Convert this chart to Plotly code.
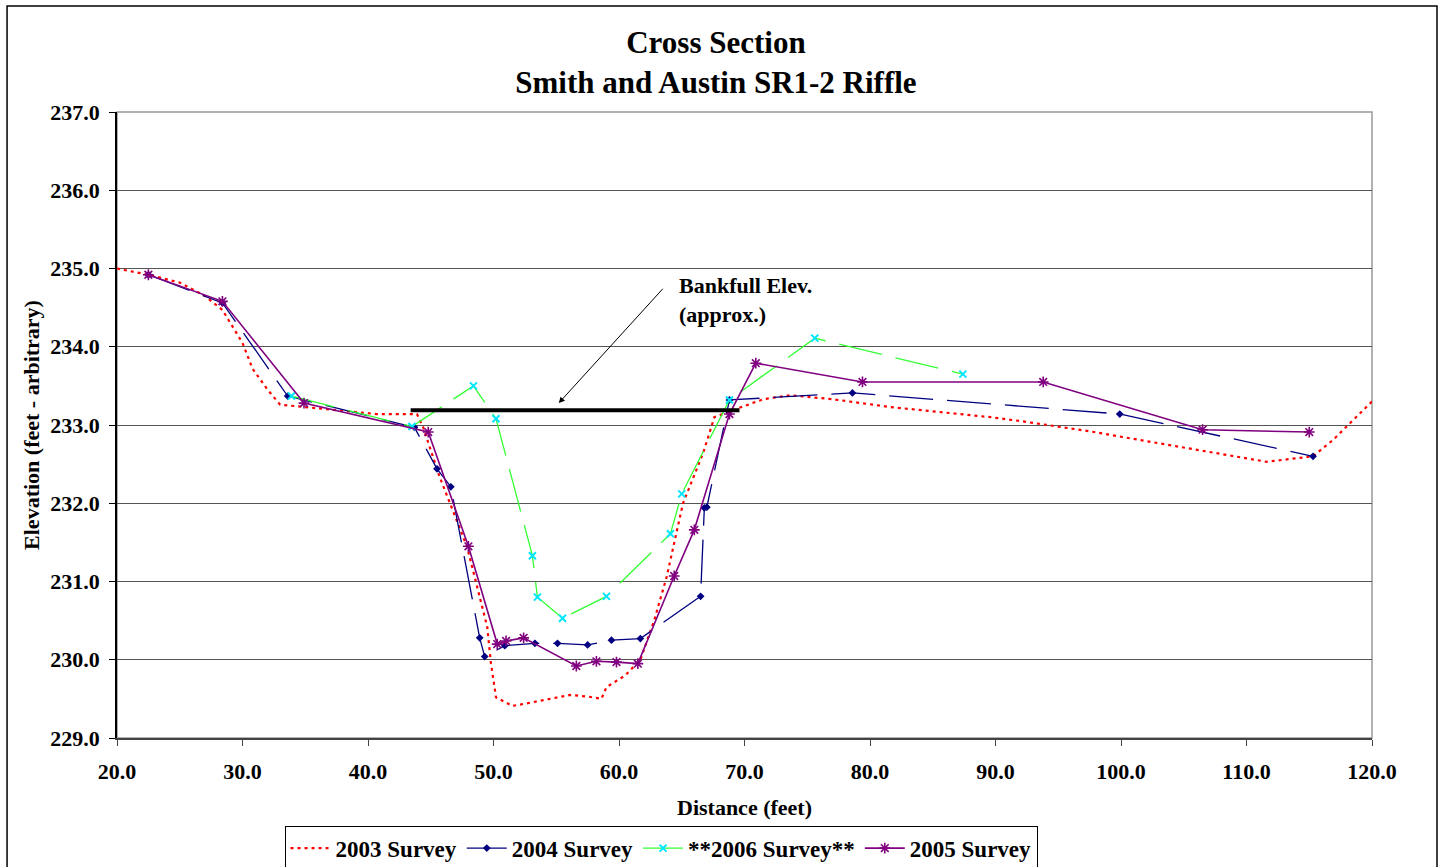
import plotly.graph_objects as go

# ---- survey data: distance (ft) and elevation (ft, arbitrary datum) ----
dist_2003 = [20.0, 22.5, 25.0, 27.0, 28.4, 30.0, 30.8, 32.0, 33.0, 35.4, 38.0, 40.7,
             43.9, 44.4, 45.7, 47.9, 49.5, 49.8, 50.2, 51.5, 52.9, 54.5, 56.1, 57.5,
             58.6, 59.0, 60.5, 61.7, 62.8, 63.8, 65.1, 66.7, 67.6, 69.6, 71.5, 73.6,
             77.0, 81.6, 89.6, 92.0, 97.5, 100.0, 106.3, 111.6, 115.3, 116.9, 120.0]
elev_2003 = [235.00, 234.92, 234.82, 234.65, 234.47, 234.05, 233.72, 233.45, 233.26,
             233.22, 233.18, 233.14, 233.14, 232.97, 232.34, 231.44, 230.42, 229.95,
             229.52, 229.41, 229.45, 229.50, 229.55, 229.53, 229.50, 229.65, 229.80,
             230.00, 230.50, 231.06, 232.00, 232.64, 233.10, 233.22, 233.33, 233.38,
             233.33, 233.23, 233.10, 233.05, 232.92, 232.85, 232.68, 232.53, 232.60,
             232.81, 233.30]

dist_2004 = [22.5, 28.4, 33.6, 43.7, 45.5, 46.6, 48.9, 49.3, 50.9, 53.3, 55.1, 57.5,
             59.4, 61.7, 66.5, 66.8, 67.0, 68.8, 78.6, 99.9, 115.3]
elev_2004 = [234.92, 234.56, 233.37, 232.97, 232.44, 232.21, 230.28, 230.04, 230.18,
             230.21, 230.21, 230.19, 230.25, 230.27, 230.81, 231.94, 231.95, 233.32,
             233.41, 233.14, 232.60]

dist_2006 = [33.9, 43.5, 48.4, 50.2, 53.1, 53.5, 55.5, 59.0, 64.1, 65.0, 68.8, 75.6, 87.4]
elev_2006 = [233.37, 232.98, 233.50, 233.08, 231.33, 230.80, 230.53, 230.81, 231.61,
             232.12, 233.32, 234.11, 233.65]

dist_2005 = [22.5, 28.4, 34.9, 44.8, 48.0, 50.3, 51.0, 52.4, 56.6, 58.2, 59.8, 61.5,
             64.4, 66.0, 68.8, 70.9, 79.4, 93.8, 106.5, 115.0]
elev_2005 = [234.92, 234.58, 233.28, 232.91, 231.45, 230.20, 230.24, 230.28, 229.92,
             229.98, 229.97, 229.95, 231.07, 231.66, 233.14, 233.79, 233.55, 233.55,
             232.94, 232.91]

bankfull_x = [43.4, 69.6]
bankfull_elev = 233.19

x_ticks = [20.0, 30.0, 40.0, 50.0, 60.0, 70.0, 80.0, 90.0, 100.0, 110.0, 120.0]
y_ticks = [229.0, 230.0, 231.0, 232.0, 233.0, 234.0, 235.0, 236.0, 237.0]

FONT = "Liberation Serif"

fig = go.Figure()

fig.add_trace(go.Scatter(
    x=dist_2003, y=elev_2003, name="2003 Survey", mode="lines",
    line=dict(color="#ff0000", width=2.2, dash="3px,4px")))

fig.add_trace(go.Scatter(
    x=dist_2004, y=elev_2004, name="2004 Survey", mode="lines+markers",
    line=dict(color="#000080", width=1.3, dash="44px,14px"),
    marker=dict(symbol="diamond", size=6, color="#000080")))

fig.add_trace(go.Scatter(
    x=dist_2006, y=elev_2006, name="**2006 Survey**", mode="lines+markers",
    line=dict(color="#33ff33", width=1.3, dash="44px,14px"),
    marker=dict(symbol="x-thin-open", size=7, color="#00e5ff",
                line=dict(color="#00e5ff", width=2))))

fig.add_trace(go.Scatter(
    x=dist_2005, y=elev_2005, name="2005 Survey", mode="lines+markers",
    line=dict(color="#800080", width=1.6),
    marker=dict(symbol="asterisk-open", size=9, color="#800080",
                line=dict(color="#800080", width=1.6))))

# bankfull elevation bar
fig.add_trace(go.Scatter(
    x=bankfull_x, y=[bankfull_elev] * len(bankfull_x), mode="lines",
    line=dict(color="black", width=4), showlegend=False, hoverinfo="skip"))

fig.add_annotation(
    x=64.6, y=234.97, xref="x", yref="y", xanchor="left", yanchor="top",
    text="<b>Bankfull Elev.<br>(approx.)</b>", showarrow=False, align="left",
    font=dict(family=FONT, size=22, color="black"))

fig.add_annotation(
    x=55.2, y=233.28, ax=63.6, ay=234.76, xref="x", yref="y", axref="x", ayref="y",
    text="", showarrow=True, arrowhead=2, arrowsize=1.2, arrowwidth=1, arrowcolor="black")

# plot-area border (gray) and outer chart frame (black)
fig.add_shape(type="rect", xref="paper", yref="paper", x0=0, y0=0, x1=1, y1=1,
              line=dict(color="#999999", width=1.5), layer="below")
fig.add_shape(type="rect", xref="paper", yref="paper",
              x0=-0.0876, x1=1.0518, y0=-0.215, y1=1.1693,
              line=dict(color="black", width=1.5))

fig.update_layout(
    width=1442, height=867,
    margin=dict(l=117, r=70, t=112, b=129, autoexpand=False),
    paper_bgcolor="white", plot_bgcolor="white",
    font=dict(family=FONT, size=22, color="black"),
    title=dict(text="<b>Cross Section<br>Smith and Austin SR1-2 Riffle</b>",
               x=0.4965, xanchor="center", y=0.939, yanchor="top",
               font=dict(family=FONT, size=31, color="black")),
    legend=dict(orientation="h", x=0.4335, xanchor="center", y=-0.140, yanchor="top",
                bordercolor="black", borderwidth=1,
                font=dict(family=FONT, size=23, color="black", weight="bold"),
                itemwidth=40, traceorder="normal", tracegroupgap=0),
    showlegend=True,
)

fig.update_xaxes(
    range=[20, 120], tickvals=x_ticks, ticktext=[f"<b>{v:.1f}</b>" for v in x_ticks],
    showgrid=False, zeroline=False, showline=True, linecolor="#444444", linewidth=2,
    ticks="outside", ticklen=6, tickcolor="#444444", tickfont=dict(size=22),
    ticklabelstandoff=7, automargin=False,
    title=dict(text="<b>Distance (feet)</b>", font=dict(size=22), standoff=16))

fig.update_yaxes(
    range=[229, 237], tickvals=y_ticks, ticktext=[f"<b>{v:.1f}</b>" for v in y_ticks],
    showgrid=True, gridcolor="#555555", gridwidth=1, zeroline=False,
    showline=True, linecolor="black", linewidth=1.5,
    ticks="outside", ticklen=6, tickcolor="black", tickfont=dict(size=22),
    ticklabelstandoff=5, automargin=False,
    title=dict(text="<b>Elevation (feet - arbitrary)</b>", font=dict(size=22), standoff=5))

fig.write_html("out.html")
